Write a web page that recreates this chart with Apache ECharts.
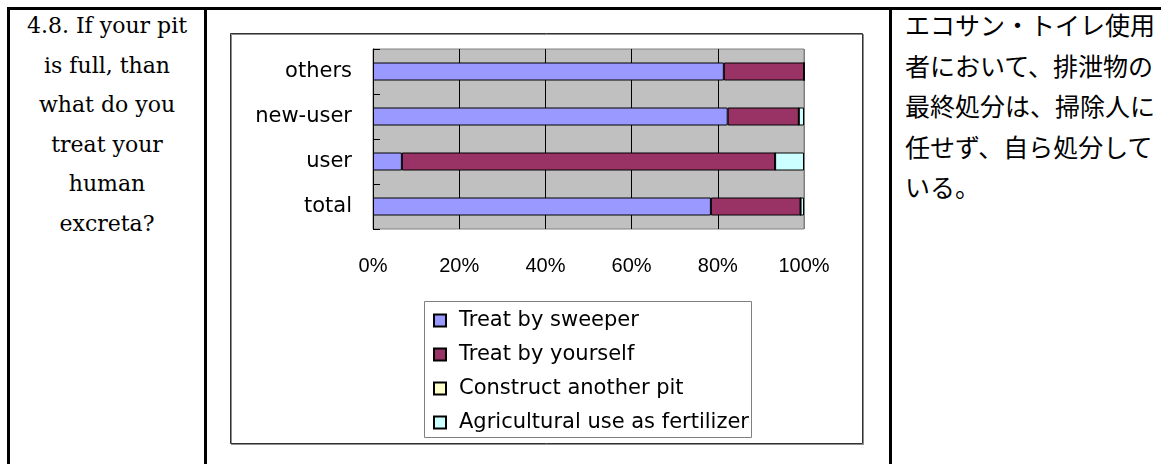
<!DOCTYPE html>
<html>
<head>
<meta charset="utf-8">
<script src="https://cdn.jsdelivr.net/npm/echarts@6/dist/echarts.min.js"></script>
<style>
  html, body { margin: 0; padding: 0; background: #fff; }
  #page { position: relative; width: 1161px; height: 464px; overflow: hidden; background: #fff; }
  .rule { position: absolute; background: #000; }
  #question {
    position: absolute; left: 10px; top: 6px; width: 194px;
    font-family: "DejaVu Serif", serif; font-size: 22px; line-height: 39.5px;
    text-align: center; color: #000; white-space: nowrap;
  }
  #note {
    position: absolute; left: 905px; top: 4px; width: 260px;
    font-family: "Noto Sans CJK JP", sans-serif; font-size: 25px; line-height: 40.5px;
    color: #000; white-space: nowrap;
  }
  #chart { position: absolute; left: 0; top: 0; width: 1161px; height: 464px; }
</style>
</head>
<body>
<div id="page">
  <div class="rule" style="left:7px; top:7px; width:1154px; height:3px;"></div>
  <div class="rule" style="left:7px; top:7px; width:3px; height:457px;"></div>
  <div class="rule" style="left:204px; top:7px; width:3px; height:457px;"></div>
  <div class="rule" style="left:889px; top:7px; width:3px; height:457px;"></div>
  <div id="question">4.8. If your pit<br>is full, than<br>what do you<br>treat your<br>human<br>excreta?</div>
  <div id="note">エコサン・トイレ使用<br>者において、排泄物の<br>最終処分は、掃除人に<br>任せず、自ら処分して<br>いる。</div>
  <div id="chart"></div>
</div>
<script>
// Respondent groups, bottom to top as drawn on the category axis
const groups = ['total', 'user', 'new-user', 'others'];

// Share of answers (%) per group, same order as groups
const treatBySweeper   = [78.4, 6.7, 82.3, 81.4];
const treatByYourself  = [20.8, 86.6, 16.5, 18.6];
const constructAnother = [0, 0, 0, 0];
const agriculturalUse  = [0.8, 6.7, 1.2, 0];

const seriesNames = [
  'Treat by sweeper',
  'Treat by yourself',
  'Construct another pit',
  'Agricultural use as fertilizer'
];
const seriesColors = ['#9999FF', '#993366', '#FFFFCC', '#CCFFFF'];
const percentTicks = [0, 20, 40, 60, 80, 100];

const seriesValues = [treatBySweeper, treatByYourself, constructAnother, agriculturalUse];

const chart = echarts.init(document.getElementById('chart'), null, { renderer: 'canvas' });

const labelFont = 'DejaVu Sans';

chart.setOption({
  animation: false,
  backgroundColor: 'transparent',
  graphic: [
    {
      // outer frame of the chart object
      type: 'rect',
      shape: { x: 230.5, y: 33.5, width: 632, height: 410 },
      style: { fill: 'none', stroke: '#333', lineWidth: 1, shadowColor: 'rgba(0,0,0,0.45)', shadowOffsetX: 1, shadowOffsetY: 1 },
      z: 0
    },
    {
      // legend box
      type: 'rect',
      shape: { x: 424.5, y: 301.5, width: 327, height: 136 },
      style: { fill: '#fff', stroke: '#808080', lineWidth: 1 },
      z: 0
    }
  ],
  grid: {
    left: 373, top: 49, width: 431, height: 180,
    show: true, backgroundColor: '#C0C0C0', borderColor: '#808080', borderWidth: 1
  },
  xAxis: {
    type: 'value', min: 0, max: 100, interval: 20,
    axisLine: { show: false },
    axisTick: { show: false },
    axisLabel: {
      margin: 27, color: '#000', fontFamily: 'Liberation Sans', fontSize: 20,
      formatter: v => percentTicks.includes(v) ? v + '%' : ''
    },
    splitLine: {
      show: true,
      lineStyle: { color: ['#000', '#000', '#000', '#000', '#000', '#808080'], width: 1 }
    }
  },
  yAxis: {
    type: 'category', data: groups,
    axisLine: { show: true, lineStyle: { color: '#000', width: 1 } },
    axisTick: { show: true, inside: true, length: 7, lineStyle: { color: '#000' } },
    axisLabel: { margin: 21, color: '#000', fontFamily: labelFont, fontSize: 21 },
    splitLine: { show: false }
  },
  legend: {
    orient: 'vertical', left: 433, top: 310, padding: 0,
    itemWidth: 12, itemHeight: 12, itemGap: 13,
    icon: 'rect',
    data: seriesNames,
    textStyle: { color: '#000', fontFamily: labelFont, fontSize: 21, lineHeight: 21, padding: [0, 0, 0, 8] }
  },
  series: seriesNames.map((name, i) => ({
    name,
    type: 'bar',
    stack: 'share',
    barWidth: 18,
    data: seriesValues[i],
    itemStyle: { color: seriesColors[i], borderColor: '#000', borderWidth: 1 },
    emphasis: { disabled: true }
  }))
});
</script>
</body>
</html>
